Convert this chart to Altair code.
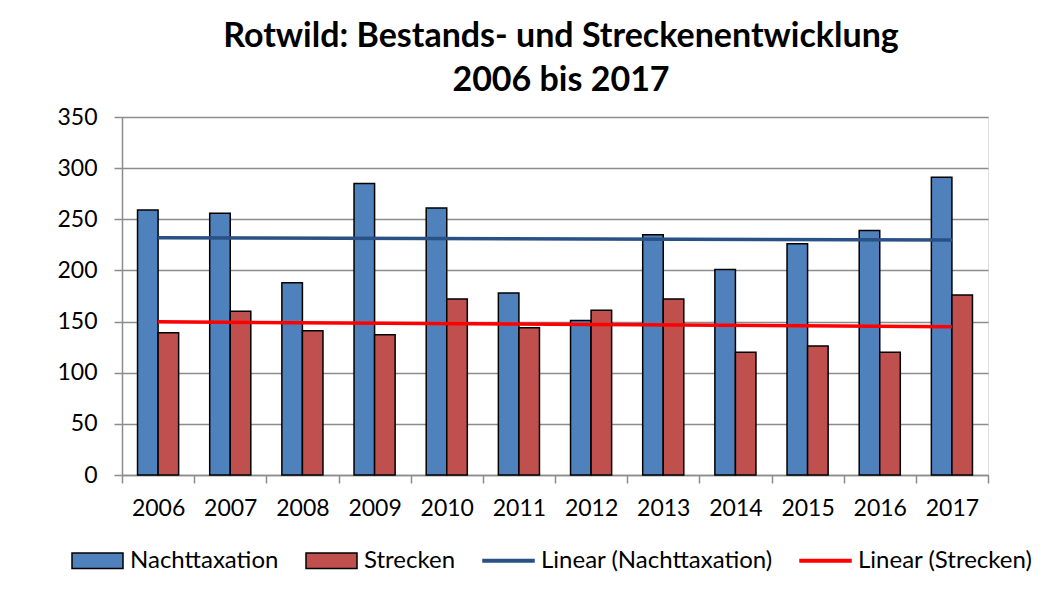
import altair as alt
import pandas as pd

# ---- data ----
years = [2006, 2007, 2008, 2009, 2010, 2011, 2012, 2013, 2014, 2015, 2016, 2017]
nachttaxation = [259, 256, 188, 285, 261, 178, 151, 235, 201, 226, 239, 291]
strecken = [139, 160, 141, 137, 172, 144, 161, 172, 120, 126, 120, 176]
series_names = ["Nachttaxation", "Strecken"]
legend_names = ["Nachttaxation", "Strecken", "Linear (Nachttaxation)", "Linear (Strecken)"]
y_ticks = [0, 50, 100, 150, 200, 250, 300, 350]
title_lines = ["Rotwild: Bestands- und Streckenentwicklung", "2006 bis 2017"]

# ---- styling ----
FONT = "Lato"
BLUE = "#4f81bd"
RED = "#c0504d"
TREND_BLUE = "#2a5185"
TREND_RED = "#ff0000"
GRID = "#8c8c8c"
RECT_PATH = "M-1,-0.3H1V0.3H-1Z"
LINE_PATH = "M-1,-0.05H1V0.05H-1Z"

rows = []
for i, y in enumerate(years):
    rows.append({"year": y, "series": series_names[0], "value": nachttaxation[i]})
    rows.append({"year": y, "series": series_names[1], "value": strecken[i]})
df = pd.DataFrame(rows)
legend_df = pd.DataFrame({"name": legend_names})

fill_scale = alt.Scale(domain=legend_names, range=[BLUE, RED, TREND_BLUE, TREND_RED])
stroke_scale = alt.Scale(domain=legend_names, range=["black", "black", TREND_BLUE, TREND_RED])
shape_scale = alt.Scale(domain=legend_names, range=[RECT_PATH, RECT_PATH, LINE_PATH, LINE_PATH])

x_enc = alt.X(
    "year:O",
    scale=alt.Scale(paddingInner=0, paddingOuter=0),
    axis=alt.Axis(
        title=None, labelAngle=0, tickBand="extent", tickSize=8, labelPadding=14,
        labelFont=FONT, labelFontSize=23, labelColor="black",
        domainColor=GRID, tickColor=GRID, domainWidth=1.5, tickWidth=1.5, grid=False,
    ),
)
y_enc = alt.Y(
    "value:Q",
    scale=alt.Scale(domain=[0, 350], nice=False),
    axis=alt.Axis(
        title=None, values=y_ticks, tickSize=8, labelPadding=17,
        labelFont=FONT, labelFontSize=23, labelColor="black",
        domainColor=GRID, tickColor=GRID, domainWidth=1.5, tickWidth=1.5,
        gridColor=GRID, gridWidth=1.5,
    ),
)

leg = alt.Legend(
    title=None, orient="none", legendX=-51, legendY=417, direction="horizontal", columns=4,
    symbolSize=2601, symbolStrokeWidth=1.5, symbolOpacity=1,
    labelFont=FONT, labelFontSize=24, labelColor="black", labelOffset=6, columnPadding=24,
    labelLimit=400,
)

# invisible layer that only carries the combined legend
legend_layer = alt.Chart(legend_df).mark_point(filled=True, opacity=0).encode(
    fill=alt.Fill("name:N", scale=fill_scale, legend=leg),
    stroke=alt.Stroke("name:N", scale=stroke_scale, legend=leg),
    shape=alt.Shape("name:N", scale=shape_scale, legend=leg),
)

bars = alt.Chart(df).mark_bar(stroke="black", strokeWidth=1.5).encode(
    x=x_enc,
    y=y_enc,
    xOffset=alt.XOffset("series:N", scale=alt.Scale(domain=series_names, paddingInner=0, paddingOuter=0.756)),
    fill=alt.Fill("series:N", scale=fill_scale, legend=leg),
)

trends = (
    alt.Chart(df)
    .transform_regression("year", "value", groupby=["series"])
    .transform_calculate(trend="'Linear (' + datum.series + ')'")
    .mark_line(strokeWidth=3.5)
    .encode(
        x=alt.X("year:O"),
        y=alt.Y("value:Q"),
        stroke=alt.Stroke("trend:N", scale=stroke_scale, legend=leg),
    )
)

chart = (
    alt.layer(legend_layer, bars, trends)
    .properties(
        width=866,
        height=358,
        title=alt.TitleParams(
            title_lines, font=FONT, fontSize=34, fontWeight="bold", color="black",
            anchor="middle", offset=8, lineHeight=44, dx=6,
        ),
        autosize=alt.AutoSizeParams(type="none"),
        padding={"left": 114, "top": 109, "right": 55, "bottom": 115},
    )
    .configure_view(stroke=None)
    .configure(background="white")
)

chart.save("out.html", embed_options={"renderer": "svg", "actions": False})
